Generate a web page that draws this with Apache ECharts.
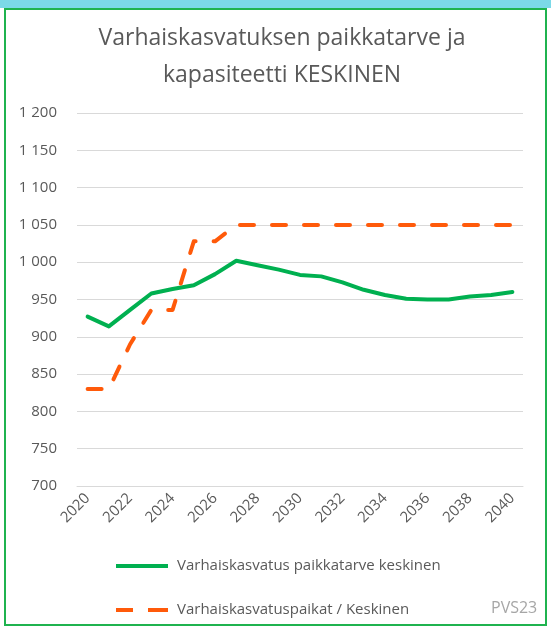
<!DOCTYPE html>
<html>
<head>
<meta charset="utf-8">
<script src="https://cdn.jsdelivr.net/npm/echarts@6/dist/echarts.min.js"></script>
<style>
  html, body { margin: 0; padding: 0; background: #fff; }
  #chart { width: 551px; height: 628px; }
</style>
</head>
<body>
<div id="chart"></div>
<script>
  // vuodet
  const years = ['2020', '2021', '2022', '2023', '2024', '2025', '2026', '2027', '2028', '2029', '2030',
    '2031', '2032', '2033', '2034', '2035', '2036', '2037', '2038', '2039', '2040'];
  // paikkatarve (keskinen)
  const tarve = [927, 914, 936, 958, 964, 969, 984, 1002, 996, 990, 983,
    981, 973, 963, 956, 951, 950, 950, 954, 956, 960];
  // varhaiskasvatuspaikat
  const paikat = [830, 830, 890, 936, 936, 1028, 1028, 1050, 1050, 1050, 1050,
    1050, 1050, 1050, 1050, 1050, 1050, 1050, 1050, 1050, 1050];
  const seriesNames = ['Varhaiskasvatus paikkatarve keskinen', 'Varhaiskasvatuspaikat / Keskinen'];

  const font = '"Open Sans", "Noto Sans", sans-serif';
  let myChart = echarts.init(document.getElementById('chart'));
  myChart.setOption({
    animation: false,
    textStyle: {fontFamily: font},
    title: {
      text: 'Varhaiskasvatuksen paikkatarve ja\nkapasiteetti KESKINEN',
      left: 277,
      top: 15,
      textAlign: 'center',
      textStyle: {
        fontFamily: font,
        fontSize: 23,
        fontWeight: 'normal',
        color: '#595959',
        lineHeight: 37
      }
    },
    grid: {left: 77, right: 28, top: 113, bottom: 142},
    xAxis: {
      type: 'category',
      data: years,
      boundaryGap: true,
      axisTick: {show: false},
      axisLine: {lineStyle: {color: '#d9d9d9', width: 1}},
      axisLabel: {
        interval: 1,
        rotate: 45,
        margin: 10,
        fontSize: 15,
        color: '#595959'
      }
    },
    yAxis: {
      type: 'value',
      min: 700,
      max: 1200,
      interval: 50,
      axisLine: {show: false},
      axisTick: {show: false},
      splitLine: {lineStyle: {color: '#d9d9d9', width: 1}},
      axisLabel: {
        margin: 20,
        fontSize: 15,
        color: '#595959',
        formatter: v => v >= 1000 ? Math.floor(v / 1000) + ' ' + String(v % 1000).padStart(3, '0') : String(v)
      }
    },
    legend: {
      orient: 'vertical',
      left: 116,
      top: 558,
      padding: 0,
      itemWidth: 52,
      itemHeight: 4,
      itemGap: 28,
      symbolKeepAspect: false,
      textStyle: {fontSize: 15, lineHeight: 16, color: '#595959', padding: [0, 0, 0, 4]},
      data: [
        {name: seriesNames[0], icon: 'path://M0,0h52v4h-52z'},
        {name: seriesNames[1], icon: 'path://M0,0h17v4h-17z M32,0h20v4h-20z'}
      ]
    },
    series: [{
      name: seriesNames[0],
      type: 'line',
      data: tarve,
      symbol: 'none',
      itemStyle: {color: '#00b050'},
      lineStyle: {color: '#00b050', width: 4, cap: 'round', join: 'round'}
    }, {
      name: seriesNames[1],
      type: 'line',
      data: paikat,
      symbol: 'none',
      z: 3,
      itemStyle: {color: '#ff5a0a'},
      lineStyle: {color: '#ff5a0a', width: 4, type: [14, 18], cap: 'round', join: 'round'}
    }],
    graphic: [{
      type: 'rect',
      shape: {x: 0, y: 0, width: 551, height: 8},
      style: {fill: '#7bd9e8'},
      silent: true
    }, {
      type: 'rect',
      shape: {x: 5, y: 9, width: 541, height: 616},
      style: {fill: 'none', stroke: '#1fb34f', lineWidth: 2},
      silent: true
    }, {
      type: 'text',
      left: 491,
      top: 600,
      style: {text: 'PVS23', fill: '#a6a6a6', font: '16px "Open Sans", sans-serif'},
      silent: true
    }]
  });
</script>
</body>
</html>
